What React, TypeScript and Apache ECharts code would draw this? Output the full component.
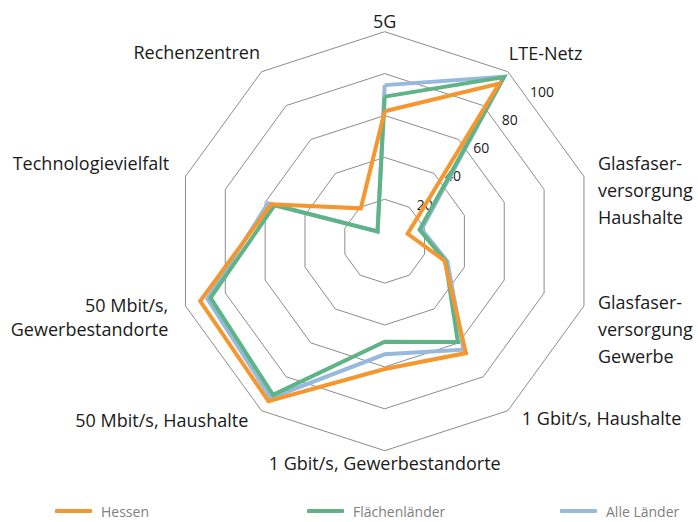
import React, { useEffect, useRef } from 'react';
import * as echarts from 'echarts';

// Indicators, clockwise starting at the top
const indicatorNames = [
  '5G',
  'LTE-Netz',
  'Glasfaser-\nversorgung\nHaushalte',
  'Glasfaser-\nversorgung\nGewerbe',
  '1 Gbit/s, Haushalte',
  '1 Gbit/s, Gewerbestandorte',
  '50 Mbit/s, Haushalte',
  '50 Mbit/s,\nGewerbestandorte',
  'Technologievielfalt',
  'Rechenzentren',
];
const indicatorMax = 100;

const seriesNames = ['Hessen', 'Flächenländer', 'Alle Länder'];
const hessen = [62, 93, 11.5, 30, 66, 61, 94.4, 92.6, 57, 19.4];
const flaechenlaender = [69, 96.8, 17.5, 30.5, 59.4, 48, 90.7, 87.4, 55.3, 5.8];
const alleLaender = [74.5, 97, 18.5, 31.5, 64, 54, 92.5, 89, 58.5, 5.8];

const radialTicks = [20, 40, 60, 80, 100];

// styling
const FONT = '"Open Sans", "Noto Sans", sans-serif';
const colors = ['#F5962F', '#5FB487', '#96B9DC'];
const CX = 384.7;
const CY = 241.2;
const R = 209.5;

// name placement (clockwise index)
const nameLayout: any[] = [
  { align: 'center', va: 'bottom', padding: [0, 0, 0, 0] },
  { align: 'left', va: 'bottom', padding: [0, 0, 7.7, 1] },
  { align: 'left', va: 'top', padding: [-26.5, 0, 0, 14], lineHeight: 27 },
  { align: 'left', va: 'top', padding: [-17.5, 0, 0, 14], lineHeight: 27 },
  { align: 'left', va: 'top', padding: [-3.5, 0, 0, 14] },
  { align: 'center', va: 'top', padding: [1.6, 0, 0, 0] },
  { align: 'right', va: 'top', padding: [-1.7, 13.3, 0, 0] },
  { align: 'right', va: 'top', padding: [-13.2, 17.2, 0, 0], lineHeight: 24.5 },
  { align: 'right', va: 'bottom', padding: [0, 16.2, 2.2, 0] },
  { align: 'right', va: 'bottom', padding: [0, 1.6, 8.4, 0] },
];

// ECharts places radar indicators counter-clockwise: reorder
const order = [0, 9, 8, 7, 6, 5, 4, 3, 2, 1];
const pick = (arr: any[]) => order.map((i) => arr[i]);

export default function App() {
  const ref = useRef<HTMLDivElement>(null);
  useEffect(() => {
    if (!ref.current) return;
    const chart = echarts.init(ref.current, undefined, { renderer: 'svg' });
    const indicators = order.map((i) => ({
      name: indicatorNames[i],
      max: indicatorMax,
      min: 0,
      nameGap: 0,
      nameTextStyle: {
        align: nameLayout[i].align,
        verticalAlign: nameLayout[i].va,
        padding: nameLayout[i].padding,
        lineHeight: nameLayout[i].lineHeight || 22,
      },
    }));
    const seriesData = [
      { name: seriesNames[2], value: pick(alleLaender), color: colors[2] },
      { name: seriesNames[1], value: pick(flaechenlaender), color: colors[1] },
      { name: seriesNames[0], value: pick(hessen), color: colors[0] },
    ];
    const legendLefts = [55, 307, 560];
    chart.setOption({
      animation: false,
      backgroundColor: '#ffffff',
      textStyle: { fontFamily: FONT },
      legend: seriesNames.map((n, i) => ({
        data: [n],
        left: legendLefts[i],
        top: 504,
        padding: 0,
        icon: 'roundRect',
        itemWidth: 37,
        itemHeight: 4,
        textStyle: { color: '#808080', fontSize: 14, fontFamily: FONT, padding: [0, 0, 0, 4] },
      })),
      radar: {
        center: [CX, CY],
        radius: R,
        startAngle: 90,
        splitNumber: 5,
        shape: 'polygon',
        indicator: indicators,
        axisNameGap: 0,
        axisName: { color: '#1a1a1a', fontSize: 18, fontFamily: FONT },
        axisLine: { show: false },
        axisTick: { show: false },
        axisLabel: { show: false },
        splitLine: { lineStyle: { color: '#8c8c8c', width: 1 } },
        splitArea: { show: false },
      },
      polar: { center: [CX, CY], radius: 199.4 },
      angleAxis: { type: 'value', min: 0, max: 360, startAngle: 44.75, show: false },
      radiusAxis: {
        type: 'value',
        min: 0,
        max: radialTicks[radialTicks.length - 1],
        interval: radialTicks[1] - radialTicks[0],
        axisLine: { show: false },
        axisTick: { show: false },
        splitLine: { show: false },
        splitArea: { show: false },
        axisLabel: {
          show: true,
          margin: 0,
          align: 'left',
          verticalAlign: 'bottom',
          lineHeight: 18.2,
          padding: [0, 0, 0, 3.7],
          fontSize: 14,
          color: '#1a1a1a',
          fontFamily: FONT,
          formatter: (v: number) => (radialTicks.includes(v) ? String(v) : ''),
        },
      },
      series: seriesData.map((s) => ({
        type: 'radar',
        name: s.name,
        symbol: 'none',
        color: s.color,
        itemStyle: { color: s.color },
        lineStyle: { color: s.color, width: 4, join: 'miter' },
        data: [{ name: s.name, value: s.value }],
      })),
    });
    return () => chart.dispose();
  }, []);
  return (
    <div
      ref={ref}
      style={{ position: 'fixed', left: 0, top: 0, width: 698, height: 522, background: '#fff' }}
    />
  );
}
